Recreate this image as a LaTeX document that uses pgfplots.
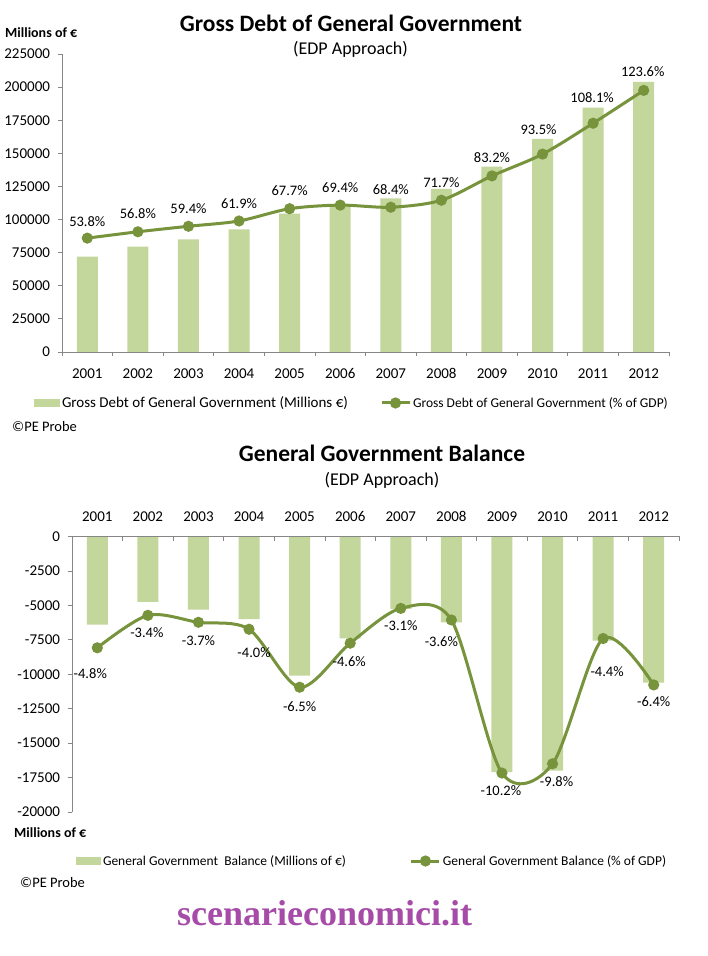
\documentclass[border=0pt]{standalone}
\usepackage{pgfplots}
\pgfplotsset{compat=1.18}
\usepackage{pgfplotstable}
\usepackage{fontspec}
\setmainfont{Carlito}
\newfontfamily\wmfont{Liberation Serif}
\definecolor{barC}{HTML}{C3D69B}
\definecolor{lineC}{HTML}{77933C}
\definecolor{axC}{HTML}{868686}
\definecolor{wmC}{HTML}{A64CA8}
\newcommand{\fs}[1]{\fontsize{#1}{#1}\selectfont}
\pgfplotsset{
  /pgf/number format/assume math mode=true,
  /pgf/number format/1000 sep={},
}
\pgfplotstableread{
x y
0 72000
1 79500
2 85000
3 92500
4 104500
5 110600
6 115900
7 123200
8 140000
9 161000
10 184500
11 204000
}\debtabs
\pgfplotstableread{
x y dx dy
0 53.8 0 17
1 56.8 0 18
2 59.4 0 18
3 61.9 0 17.5
4 67.7 0 18
5 69.4 0 17
6 68.4 0 18
7 71.7 0 18
8 83.2 0 18.5
9 93.5 -4 24
10 108.1 -1 26
11 123.6 -1 18.5
}\debtpct
\pgfplotstableread{
x y
0 -6400
1 -4750
2 -5300
3 -6000
4 -10100
5 -7400
6 -5250
7 -6230
8 -17100
9 -17000
10 -7550
11 -10600
}\balabs
\pgfplotstableread{
x y dx dy
0 -4.8 -7 -26
1 -3.4 -1 -17
2 -3.7 0 -18
3 -4.0 5 -23
4 -6.5 0 -19
5 -4.6 -1 -18
6 -3.1 0 -17
7 -3.6 -10 -22
8 -10.2 -1 -18
9 -9.8 4 -18
10 -4.4 4 -33
11 -6.4 0 -17
}\balpct
\begin{document}
\begin{tikzpicture}[x=1pt,y=1pt]
\path[use as bounding box, fill=white] (0,0) rectangle (708,956);
% ---------- top chart ----------
\node[anchor=base, font=\bfseries\fs{23.5}, inner sep=0pt] at (351,924) {Gross Debt of General Government};
\node[anchor=base, font=\fs{18}, inner sep=0pt] at (350.5,901) {(EDP Approach)};
\node[anchor=base west, font=\bfseries\fs{14}, inner sep=0pt] at (5,918) {Millions of €};
\node[anchor=base west, font=\fs{14.5}, inner sep=0pt] at (12,524) {©PE Probe};
\begin{axis}[
  at={(62pt,604pt)}, anchor=south west,
  scale only axis, width=607pt, height=298pt,
  xmin=-0.5, xmax=11.5, ymin=0, ymax=225000,
  scaled y ticks=false,
  axis x line*=bottom, axis y line*=left,
  axis line style={-, axC, line width=0.8pt},
  tick align=outside, major tick length=4.5pt,
  tick style={axC, line width=0.8pt},
  xtick={-0.5,0.5,...,11.5}, x tick label as interval,
  xticklabels={2001,2002,2003,2004,2005,2006,2007,2008,2009,2010,2011,2012},
  ytick={0,25000,50000,75000,100000,125000,150000,175000,200000,225000},
  yticklabels={0,25000,50000,75000,100000,125000,150000,175000,200000,225000},
  xticklabel style={font=\fs{15}, text=black, text height=10pt, text depth=0pt, yshift=-8pt},
  yticklabel style={font=\fs{15}, text=black, xshift=-4pt},
  legend style={at={(axis description cs:-0.04613,-0.17114)}, anchor=west, draw=none, fill=none,
    inner sep=0pt, outer sep=0pt, font=\fs{15}, cells={anchor=west},
    /tikz/every even column/.append style={column sep=3pt}},
]
\addplot[ybar, bar width=21pt, fill=barC, draw=none,
  legend image code/.code={\fill[barC] (0pt,-4pt) rectangle (26pt,4pt);}]
  table[x=x,y=y]{\debtabs};
\addlegendentry{Gross Debt of General Government (Millions €)}
\end{axis}
\begin{axis}[
  at={(62pt,604pt)}, anchor=south west,
  scale only axis, width=607pt, height=298pt,
  xmin=-0.5, xmax=11.5, ymin=0, ymax=140.8,
  hide axis, clip=false,
  legend style={at={(axis description cs:0.5239,-0.17114)}, anchor=west, draw=none, fill=none,
    inner sep=0pt, outer sep=0pt, font=\fs{13.5}, cells={anchor=west},
    /tikz/every even column/.append style={column sep=1pt}},
]
\addplot[lineC, line width=3pt, smooth, tension=0.5, mark=*, mark size=4pt,
  mark options={solid, fill=lineC, draw=none},
  point meta=\thisrow{y},
  nodes near coords={\pgfmathprintnumber[fixed,fixed zerofill,precision=1]{\pgfplotspointmeta}\%},
  visualization depends on={\thisrow{dx}\as\labdx},
  visualization depends on={\thisrow{dy}\as\labdy},
  every node near coord/.append style={anchor=center, xshift=\labdx pt, yshift=\labdy pt,
    font=\fs{14.5}, text=black, inner sep=0pt},
  legend image code/.code={\draw[lineC, line width=3pt] (0pt,0pt) -- (28pt,0pt);
    \fill[lineC] (14pt,0pt) circle (4pt);}]
  table[x=x,y=y]{\debtpct};
\addlegendentry{Gross Debt of General Government (\% of GDP)}
\end{axis}
% ---------- bottom chart ----------
\node[anchor=base, font=\bfseries\fs{23.5}, inner sep=0pt] at (382,494) {General Government Balance};
\node[anchor=base, font=\fs{18}, inner sep=0pt] at (382,470) {(EDP Approach)};
\node[anchor=base west, font=\bfseries\fs{14}, inner sep=0pt] at (14,118) {Millions of €};
\node[anchor=base west, font=\fs{14.5}, inner sep=0pt] at (20,68) {©PE Probe};
\begin{axis}[
  at={(72pt,144pt)}, anchor=south west,
  scale only axis, width=607pt, height=275.5pt,
  xmin=-0.5, xmax=11.5, ymin=-20000, ymax=0,
  scaled y ticks=false,
  axis x line=none, axis y line*=left,
  axis line style={-, axC, line width=0.8pt},
  tick align=outside, major tick length=4.5pt,
  tick style={axC, line width=0.8pt},
  xtick=\empty,
  ytick={-20000,-17500,-15000,-12500,-10000,-7500,-5000,-2500,0},
  yticklabels={-20000,-17500,-15000,-12500,-10000,-7500,-5000,-2500,0},
  yticklabel style={font=\fs{15}, text=black, xshift=-4pt},
  legend style={at={(axis description cs:0.00659,-0.1779)}, anchor=west, draw=none, fill=none,
    inner sep=0pt, outer sep=0pt, font=\fs{13.5}, cells={anchor=west},
    /tikz/every even column/.append style={column sep=3pt}},
]
\addplot[ybar, bar width=21pt, fill=barC, draw=none,
  legend image code/.code={\fill[barC] (0pt,-4pt) rectangle (25pt,4pt);}]
  table[x=x,y=y]{\balabs};
\addlegendentry{General Government\ \ Balance (Millions of €)}
\end{axis}
\begin{axis}[
  at={(72pt,144pt)}, anchor=south west,
  scale only axis, width=607pt, height=275.5pt,
  xmin=-0.5, xmax=11.5, ymin=-11.88, ymax=0,
  axis x line*=top, axis y line=none,
  axis line style={-, axC, line width=0.8pt},
  tick align=inside, major tick length=5pt,
  tick style={axC, line width=0.8pt},
  xtick={-0.5,0.5,...,11.5}, x tick label as interval,
  xticklabels={2001,2002,2003,2004,2005,2006,2007,2008,2009,2010,2011,2012},
  xticklabel style={font=\fs{15}, text=black, text height=10pt, text depth=0pt, yshift=11pt},
  clip=false,
  legend style={at={(axis description cs:0.5568,-0.1779)}, anchor=west, draw=none, fill=none,
    inner sep=0pt, outer sep=0pt, font=\fs{13.5}, cells={anchor=west},
    /tikz/every even column/.append style={column sep=2pt}},
]
\addplot[lineC, line width=3pt, smooth, tension=0.5, mark=*, mark size=4pt,
  mark options={solid, fill=lineC, draw=none},
  point meta=\thisrow{y},
  nodes near coords={\pgfmathprintnumber[fixed,fixed zerofill,precision=1]{\pgfplotspointmeta}\%},
  visualization depends on={\thisrow{dx}\as\labdx},
  visualization depends on={\thisrow{dy}\as\labdy},
  every node near coord/.append style={anchor=center, xshift=\labdx pt, yshift=\labdy pt,
    font=\fs{14.5}, text=black, inner sep=0pt},
  legend image code/.code={\draw[lineC, line width=3pt] (0pt,0pt) -- (28pt,0pt);
    \fill[lineC] (14pt,0pt) circle (4pt);}]
  table[x=x,y=y]{\balpct};
\addlegendentry{General Government Balance (\% of GDP)}
\end{axis}
% watermark
\node[anchor=base west, font=\wmfont\bfseries\fs{36}, text=wmC, inner sep=0pt] at (177,30) {scenarieconomici.it};
\end{tikzpicture}
\end{document}
